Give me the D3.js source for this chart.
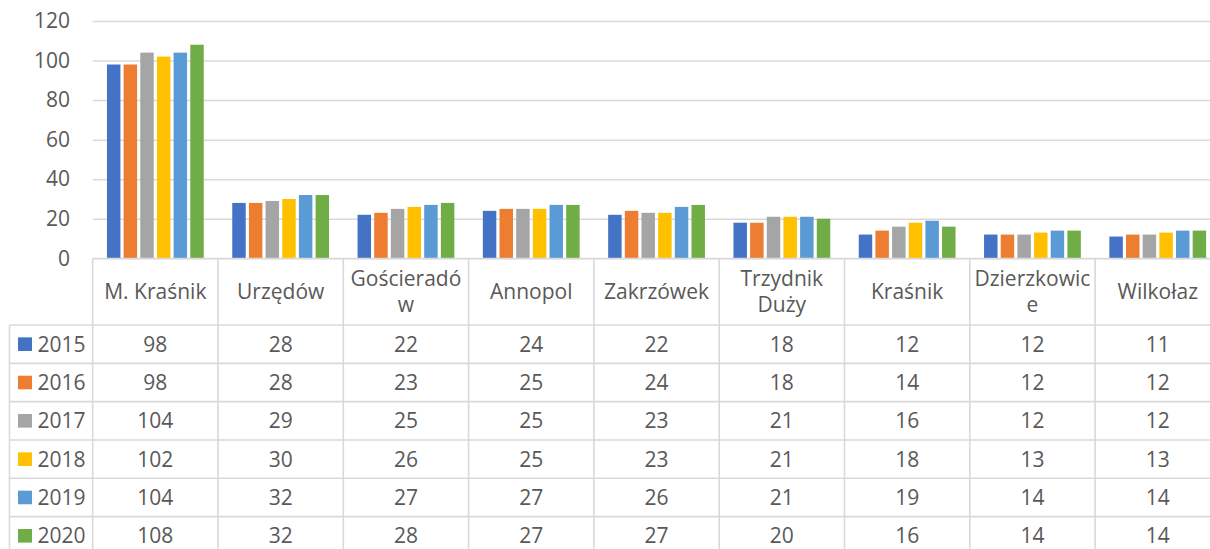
<!DOCTYPE html>
<html>
<head>
<meta charset="utf-8">
<script src="https://cdn.jsdelivr.net/npm/d3@7"></script>
<style>
  body { margin: 0; background: #fff; }
  svg { display: block; }
</style>
</head>
<body>
<script>
// gminy (kolumny tabeli)
var categories = ["M. Kraśnik", "Urzędów", "Gościeradów", "Annopol", "Zakrzówek",
  "Trzydnik Duży", "Kraśnik", "Dzierzkowice", "Wilkołaz"];
// jak etykiety sa lamane w naglowku tabeli
var headerLines = [["M. Kraśnik"], ["Urzędów"], ["Gościeradó", "w"], ["Annopol"], ["Zakrzówek"],
  ["Trzydnik", "Duży"], ["Kraśnik"], ["Dzierzkowic", "e"], ["Wilkołaz"]];
var years = ["2015", "2016", "2017", "2018", "2019", "2020"];

var v2015 = [98, 28, 22, 24, 22, 18, 12, 12, 11];
var v2016 = [98, 28, 23, 25, 24, 18, 14, 12, 12];
var v2017 = [104, 29, 25, 25, 23, 21, 16, 12, 12];
var v2018 = [102, 30, 26, 25, 23, 21, 18, 13, 13];
var v2019 = [104, 32, 27, 27, 26, 21, 19, 14, 14];
var v2020 = [108, 32, 28, 27, 27, 20, 16, 14, 14];

var yTicks = [0, 20, 40, 60, 80, 100, 120];
var colors = ["#4472C4", "#ED7D31", "#A5A5A5", "#FFC000", "#5B9BD5", "#70AD47"];

var series = [v2015, v2016, v2017, v2018, v2019, v2020];

var w = 1210;
var h = 549;
var font = "'Open Sans', 'DejaVu Sans', sans-serif";
var fontSize = "21px";
var textColor = "#595959";
var lineColor = "#d9d9d9";

var plotLeft = 92.7;
var plotRight = 1220.4; // wychodzi poza obrazek, tak jak w oryginale
var tableTop = 258.5;
var headerBottom = 325;
var rowH = 38.33;
var tableLeft = 9.5;

var svg = d3.select("body").append("svg").attr("width", w).attr("height", h);
svg.append("rect").attr("width", w).attr("height", h).attr("fill", "#fff");

var xScale = d3.scaleBand().domain(categories).range([plotLeft, plotRight]);
var groupW = xScale.bandwidth() * 0.798;
var xInner = d3.scaleBand().domain(years)
  .range([(xScale.bandwidth() - groupW) / 2, (xScale.bandwidth() + groupW) / 2]);
var yScale = d3.scaleLinear().domain([0, 120]).range([258.3, 21]);

// siatka + etykiety osi Y
var yAxis = d3.axisLeft(yScale)
  .tickValues(yTicks)
  .tickSizeInner(-(plotRight - plotLeft))
  .tickSizeOuter(0)
  .tickPadding(22.7);

var gy = svg.append("g").attr("transform", "translate(" + plotLeft + ",0)").call(yAxis);
gy.select(".domain").remove();
gy.selectAll(".tick line").attr("stroke", lineColor).attr("stroke-width", 1.5);
gy.selectAll(".tick text")
  .attr("font-family", font)
  .attr("font-size", fontSize)
  .attr("fill", textColor);

// slupki
var groups = svg.selectAll("g.year")
  .data(series)
  .enter()
  .append("g")
  .attr("class", "year")
  .attr("fill", function (d, i) { return colors[i]; });

groups.selectAll("rect")
  .data(function (d, i) {
    return d.map(function (v, j) { return { cat: categories[j], year: years[i], value: v }; });
  })
  .enter()
  .append("rect")
  .attr("x", function (d) { return xScale(d.cat) + xInner(d.year) + 1.6; })
  .attr("y", function (d) { return yScale(d.value); })
  .attr("width", xInner.bandwidth() - 3.2)
  .attr("height", function (d) { return yScale(0) - yScale(d.value); });

// tabela danych
var rowScale = d3.scaleBand().domain(years).range([headerBottom, headerBottom + rowH * years.length]);
var tableBottom = headerBottom + rowH * years.length;

var grid = svg.append("g")
  .attr("stroke", lineColor)
  .attr("stroke-width", 1.6)
  .attr("fill", "none");

grid.append("line")
  .attr("x1", plotLeft).attr("x2", plotRight)
  .attr("y1", tableTop).attr("y2", tableTop);

grid.selectAll("line.row")
  .data(years)
  .enter()
  .append("line")
  .attr("class", "row")
  .attr("x1", tableLeft).attr("x2", plotRight)
  .attr("y1", function (d) { return rowScale(d); })
  .attr("y2", function (d) { return rowScale(d); });

grid.append("line")
  .attr("x1", tableLeft).attr("x2", tableLeft)
  .attr("y1", headerBottom).attr("y2", tableBottom);

grid.selectAll("line.col")
  .data(categories)
  .enter()
  .append("line")
  .attr("class", "col")
  .attr("x1", function (d) { return xScale(d); })
  .attr("x2", function (d) { return xScale(d); })
  .attr("y1", tableTop).attr("y2", tableBottom);

// naglowki kolumn
var headerMid = (tableTop + headerBottom) / 2;
var lineStep = 26.5;
svg.selectAll("text.head")
  .data(categories)
  .enter()
  .append("text")
  .attr("class", "head")
  .attr("font-family", font)
  .attr("font-size", fontSize)
  .attr("fill", textColor)
  .attr("text-anchor", "middle")
  .each(function (d, i) {
    var lines = headerLines[i];
    var t = d3.select(this);
    lines.forEach(function (ln, k) {
      t.append("tspan")
        .attr("x", xScale(d) + xScale.bandwidth() / 2)
        .attr("y", headerMid + (k - (lines.length - 1) / 2) * lineStep)
        .attr("dy", "0.35em")
        .text(ln);
    });
  });

// wiersze z wartosciami
var rows = svg.selectAll("g.datarow")
  .data(series)
  .enter()
  .append("g")
  .attr("class", "datarow")
  .attr("transform", function (d, i) {
    return "translate(0," + (rowScale(years[i]) + rowH / 2) + ")";
  });

rows.append("rect")
  .attr("x", 18)
  .attr("y", -6.8)
  .attr("width", 14)
  .attr("height", 13.6)
  .attr("fill", function (d, i) { return colors[i]; });

rows.append("text")
  .attr("x", 37.5)
  .attr("dy", "0.35em")
  .attr("font-family", font)
  .attr("font-size", fontSize)
  .attr("fill", textColor)
  .text(function (d, i) { return years[i]; });

rows.selectAll("text.val")
  .data(function (d) { return d; })
  .enter()
  .append("text")
  .attr("class", "val")
  .attr("x", function (d, j) { return xScale(categories[j]) + xScale.bandwidth() / 2; })
  .attr("dy", "0.35em")
  .attr("text-anchor", "middle")
  .attr("font-family", font)
  .attr("font-size", fontSize)
  .attr("fill", textColor)
  .text(function (d) { return d; });
</script>
</body>
</html>
